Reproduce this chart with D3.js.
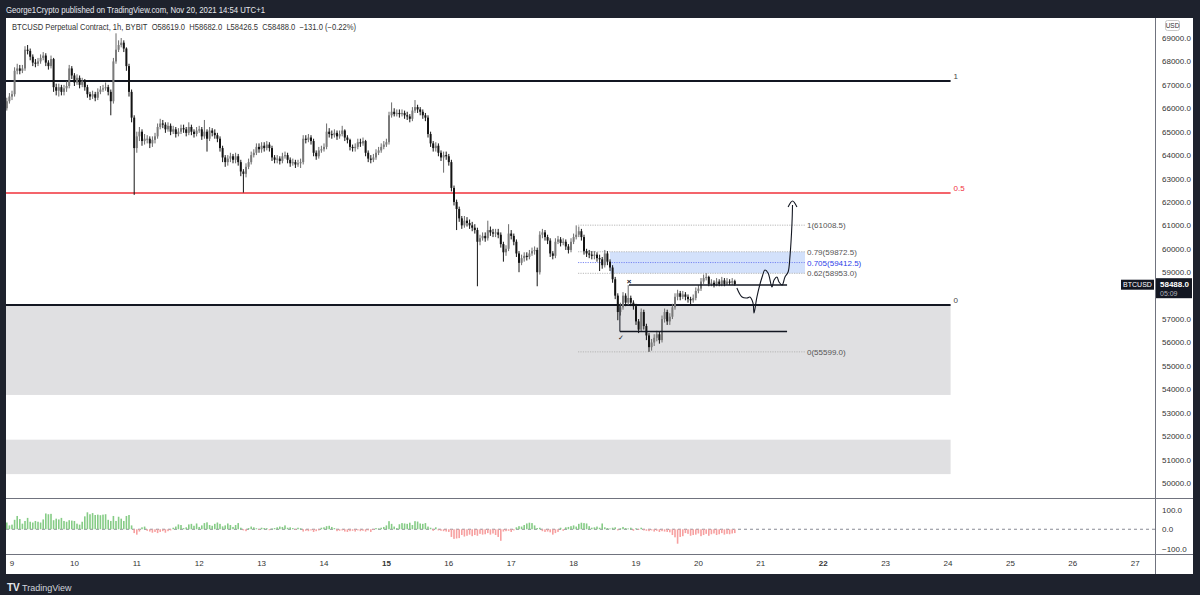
<!DOCTYPE html>
<html><head><meta charset="utf-8">
<script src="https://cdn.jsdelivr.net/npm/d3@7"></script>
<style>
html,body{margin:0;padding:0;background:#1e222d;}
svg{display:block;font-family:"Liberation Sans",Arial,sans-serif;}
</style></head><body>
<svg id="c" width="1200" height="595"></svg>
<script>
// ---------- DATA ----------
const firstHour = -2;           // hours since Nov 9 00:00 of first candle
const startOpen = 66000;
const closes = [
66300,66500,
66600,67600,67700,67600,67700,68500,68450,68200,67950,67900,68000,68150,68250,67950,67800,68100,66900,66750,66900,66700,66850,66950,67700,67400,
67100,67300,67000,67150,66900,66600,66500,66600,66450,66700,66800,66850,66900,66700,66300,68000,68500,68700,68800,68550,67800,66700,65600,64300,
64800,65000,64600,64700,64700,64500,64650,64800,65200,65350,65300,65100,65250,65000,65100,64900,65000,65150,65100,64950,65200,65000,64900,65050,
65100,64800,65000,64700,65050,64950,64850,64700,64300,63900,63700,63850,63950,63800,63950,63700,63300,63200,63500,63700,64000,64100,64350,64250,
64400,64300,64450,64300,63900,63800,63850,63750,63950,64000,63800,63650,63700,63600,63650,63700,64700,64650,64750,64600,64100,63950,64200,64250,
64350,65000,64900,64850,64950,64800,64900,65050,64750,64650,64350,64300,64350,64550,64500,64600,64100,63850,63800,63900,64100,64200,64350,64450,
64550,65700,65850,65750,65800,65750,65800,65700,65650,65550,65900,66050,65950,65850,65700,65600,64900,64500,64300,64400,64100,63900,64000,63950,
63700,62600,62000,61700,61300,61000,61200,61100,61000,60900,60800,60300,60450,60550,60450,60800,60700,60650,60700,60600,60200,59850,60000,60650,
60550,60300,59800,59400,59600,59700,59650,59800,59900,59950,59000,60600,60700,60500,60350,59800,59700,60300,60400,60250,60300,60100,59950,60300,
60500,60600,60750,60500,59900,59800,59750,59700,59750,59600,59550,59300,59800,59450,59200,58700,58000,57300,57500,58000,57700,57900,57700,57550,
56900,56550,57300,56700,56300,55800,56000,56200,56350,56100,57000,57300,56900,57100,57500,57950,58100,57950,58050,57950,57850,57800,57900,58200,
58300,58600,58750,58800,58500,58550,58450,58600,58500,58650,58500,58600,58550,58619,58488
];
const highs = [
66450,66650,
66750,67750,67900,67850,67850,68650,68700,68550,68300,68100,68150,68300,68400,68350,68050,68250,68150,67050,67050,67000,67000,67150,67850,67800,
67500,67450,67400,67300,67250,67000,66700,66750,66700,66850,66950,67000,67100,67000,66800,68150,69200,68900,69000,68900,68600,67900,66800,65700,
65000,65200,65100,64900,64850,64800,64800,64950,65350,65550,65500,65400,65400,65350,65250,65200,65150,65300,65300,65200,65400,65300,65100,65200,
65250,65200,65500,65100,65200,65150,65100,64950,64800,64400,64000,64000,64100,64050,64100,64050,63800,63400,63650,63850,64150,64250,64500,64500,
64550,64550,64600,64550,64400,64000,64000,63950,64100,64150,64100,63900,63850,63800,63800,63850,64850,64850,64900,64850,64700,64200,64350,64400,
64500,65350,65150,65050,65100,65050,65050,65250,65100,64850,64700,64450,64500,64700,64700,64750,64650,64200,64000,64050,64250,64350,64500,64600,
64700,65850,66250,66000,65950,65950,65950,65900,65850,65750,66050,66350,66150,66050,65950,65800,65700,65000,64600,64550,64500,64200,64150,64150,
64050,63800,62700,62100,61800,61400,61400,61350,61250,61150,61050,60900,60600,60700,60700,61200,60950,60850,60850,60850,60700,60300,60150,61050,
60800,60650,60400,59900,59750,59850,59850,59950,60050,60100,60050,60750,60850,60800,60600,60450,59900,60450,60550,60500,60450,60400,60200,60450,
60650,61000,60950,60850,60600,60000,59950,59900,59900,59850,59750,59650,59950,59900,59550,59300,58800,58100,57700,58150,58100,58450,58000,57800,
57650,57000,57450,57400,56800,56400,56150,56350,56500,56450,57150,57450,57400,57250,57650,58100,58250,58200,58200,58150,58050,57950,58050,58350,
58450,58750,58900,58960,58850,58700,58650,58750,58700,58800,58750,58750,58700,58750,58682
];
const lows = [
65900,66200,
66350,66500,67450,67450,67500,67600,68300,68050,67800,67750,67800,67900,68050,67800,67650,67700,66700,66550,66500,66550,66550,66700,66850,67250,
66950,67000,66850,66900,66750,66450,66350,66400,66300,66350,66600,66700,66750,66550,65700,66200,67900,68400,68600,68400,67600,66500,65400,62300,
64100,64600,64400,64450,64500,64300,64350,64500,64700,65100,65150,64950,65000,64850,64900,64750,64800,64900,64950,64800,64850,64850,64750,64800,
64950,64650,64700,64150,64600,64800,64700,64550,64150,63700,63500,63550,63700,63650,63650,63550,63100,62400,63050,63400,63600,63900,64000,64100,
64100,64150,64200,64150,63750,63650,63650,63600,63650,63850,63650,63500,63550,63450,63500,63450,63600,64500,64550,64450,63950,63800,63850,64100,
64150,64250,64750,64700,64750,64650,64700,64800,64600,64500,64200,64150,64150,64250,64350,64400,63950,63700,63650,63700,63800,64000,64100,64250,
64350,64450,65600,65650,65650,65600,65650,65550,65500,65400,65450,65800,65800,65700,65550,65450,64750,64350,64150,64150,63950,63750,63250,63800,
63550,62450,61850,60800,61150,60850,60900,60950,60850,60750,60650,58400,60150,60350,60300,60350,60550,60500,60500,60450,60050,59450,59700,59900,
60400,60150,59650,59000,59300,59450,59500,59550,59700,59750,58400,58900,60450,60350,60200,59650,59550,59600,60200,60100,60150,59950,59800,59850,
60200,60400,60500,60350,59750,59650,59600,59550,59550,59450,59050,59150,59200,59300,59050,58550,57850,56950,57150,57400,57550,57600,57550,57400,
56750,56400,56450,56550,56100,55600,55650,55850,56050,55950,56000,56850,56750,56750,57000,57400,57800,57800,57850,57800,57700,57600,57700,57800,
58100,58200,58500,58650,58400,58400,58350,58400,58400,58400,58400,58450,58450,58450,58426.5
];
const oscValues = [
35,20,
24,49,69,53,29,43,59,39,35,43,39,35,51,82,78,80,47,55,51,59,43,39,47,45,
43,29,24,39,67,88,78,84,74,76,73,76,78,49,43,69,43,65,55,43,69,74,20,-20,
-28,-12,10,14,-8,-12,-18,-14,-20,-14,-10,-18,-10,-6,8,14,25,22,6,10,25,28,18,30,
12,20,32,36,22,18,28,35,28,15,20,30,22,12,22,32,8,-6,-10,6,14,10,5,-4,
8,6,5,-5,4,6,10,14,12,20,8,10,6,-4,8,5,-12,-8,-10,-6,-14,-10,-6,8,
10,16,18,12,6,-10,-8,-6,-12,-14,-10,-8,-12,-6,-10,-8,-12,-6,-14,-4,6,4,8,12,
20,42,28,14,6,26,32,30,28,34,22,42,40,30,28,32,14,8,-8,10,-6,-8,-10,-12,
-14,-40,-50,-48,-46,-30,-38,-34,-28,-36,-30,-34,-24,-28,-26,-20,-28,-22,-30,-40,-60,-12,-10,-8,
-14,-6,10,16,14,22,30,34,32,20,6,8,-10,-14,-12,-16,-28,-20,-14,8,-8,10,12,16,
20,14,28,34,32,30,16,8,10,14,8,30,10,6,4,8,10,-6,5,12,6,4,8,-8,
5,-4,8,-6,-8,-10,-6,-12,-8,-14,-10,-12,-14,-16,-30,-42,-75,-40,-36,-20,-24,-34,-30,-28,
-22,-36,-30,-24,-34,-26,-22,-30,-26,-20,-28,-24,-26,-22,-20
];
const dayLabels = [9,10,11,12,13,14,15,16,17,18,19,20,21,22,23,24,25,26,27];
const boldDays = [15,22];
const priceTicks = [69000,68000,67000,66000,65000,64000,63000,62000,61000,60000,59000,57000,56000,55000,54000,53000,52000,51000,50000];
const oscTicks = [100,0,-100];
// horizontal levels (fib 1 / 0.5 / 0)
const levelLabels = ["1","0.5","0"];
const levelPrices = [67164,62382,57600];
const levelEndHour = 361;
// grey zones
const zoneTops = [57600,51850];
const zoneBottoms = [53760,50380];
// fib retracement
const fibLabels = ["1(61008.5)","0.79(59872.5)","0.705(59412.5)","0.62(58953.0)","0(55599.0)"];
const fibPrices = [61008.5,59872.5,59412.5,58953.0,55599.0];
const fibStartHour = 217.7, fibEndHour = 305, fibBoxStartHour = 230;
// range lines
const rangePrices = [58450,56470];
const rangeStartHours = [237.3,233.8];
const rangeEndHour = 298.1;
// projected path
const projHours  = [278.8,280.8,282.7,283.8,285.0,285.4,286.5,288.5,289.6,290.8,292.3,293.1,294.2,295.0,296.2,297.3,298.5,299.2,300.0,300.2];
const projPrices = [58325,57940,57900,57940,57685,57257,57940,58795,59094,58966,58368,58667,58795,58581,58453,58795,59008,59649,61100,61869];
const arrowHours = [298.5,300.2,301.9];
const arrowPrices = [61784,62040,61784];
const lastPrice = "58488.0", countdown = "05:09";

// ---------- DRAW ----------
const svg = d3.select("#c");
const L = 6, R = 1193, AX = 1155, T = 18, MB = 498, OB = 554, B = 574;
const x = d3.scaleLinear().domain([0, 432]).range([12, 1135.2]);
const y = d3.scaleLinear().domain([50000, 69000]).range([483, 38]);
const yo = d3.scaleLinear().domain([-100, 100]).range([548.5, 510]);

svg.append("rect").attr("x",0).attr("y",0).attr("width",1200).attr("height",595).attr("fill","#1e222d");
svg.append("rect").attr("x",L).attr("y",T).attr("width",R-L).attr("height",B-T).attr("fill","#ffffff");

svg.append("text").attr("x",6).attr("y",12.5).attr("fill","#e6e8ee").attr("font-size",9)
  .attr("textLength",259).attr("lengthAdjust","spacingAndGlyphs")
  .text("George1Crypto published on TradingView.com, Nov 20, 2021 14:54 UTC+1");

const defs = svg.append("defs");
defs.append("clipPath").attr("id","mainClip").append("rect").attr("x",L).attr("y",T).attr("width",AX-L).attr("height",MB-T);
defs.append("clipPath").attr("id","oscClip").append("rect").attr("x",L).attr("y",MB).attr("width",AX-L).attr("height",OB-MB);

const main = svg.append("g").attr("clip-path","url(#mainClip)");

// grey zones
main.selectAll("rect.zone").data(zoneTops).enter().append("rect").attr("class","zone")
  .attr("x",L).attr("width",x(levelEndHour)-L)
  .attr("y",d=>y(d)).attr("height",(d,i)=>y(zoneBottoms[i])-y(d))
  .attr("fill","#e0e0e2");

// fib box
main.append("rect").attr("x",x(fibBoxStartHour)).attr("width",x(fibEndHour)-x(fibBoxStartHour))
  .attr("y",y(fibPrices[1])).attr("height",y(fibPrices[3])-y(fibPrices[1]))
  .attr("fill","#d3e1fb");
main.selectAll("line.fib").data(fibPrices).enter().append("line")
  .attr("x1",x(fibStartHour)).attr("x2",x(fibEndHour))
  .attr("y1",d=>y(d)).attr("y2",d=>y(d))
  .attr("stroke",(d,i)=>i===2?"#6d7cf0":"#b0b0b0").attr("stroke-width",0.9)
  .attr("stroke-dasharray","1.2,1.2");

// levels
main.selectAll("line.lvl").data(levelPrices).enter().append("line")
  .attr("x1",L).attr("x2",x(levelEndHour))
  .attr("y1",d=>y(d)).attr("y2",d=>y(d))
  .attr("stroke",(d,i)=>i===1?"#f0303a":"#131722").attr("stroke-width",(d,i)=>i===1?1.3:1.8);

// candles
const candles = closes.map((c,i)=>({h:firstHour+i, o: i?closes[i-1]:startOpen, c, hi:highs[i], lo:lows[i]}));
const cg = main.append("g");
cg.selectAll("line.wick").data(candles).enter().append("line")
  .attr("x1",d=>x(d.h)).attr("x2",d=>x(d.h))
  .attr("y1",d=>y(d.hi)).attr("y2",d=>y(d.lo))
  .attr("stroke",d=>d.c>=d.o?"#6a6a6a":"#141414").attr("stroke-width",1);
cg.selectAll("rect.body").data(candles).enter().append("rect")
  .attr("x",d=>x(d.h)-1).attr("width",2)
  .attr("y",d=>y(Math.max(d.o,d.c)))
  .attr("height",d=>Math.max(1,Math.abs(y(d.o)-y(d.c))))
  .attr("fill",d=>d.c>=d.o?"#7a7a7a":"#141414");

// range lines
main.selectAll("line.rng").data(rangePrices).enter().append("line")
  .attr("x1",(d,i)=>x(rangeStartHours[i])).attr("x2",x(rangeEndHour))
  .attr("y1",d=>y(d)).attr("y2",d=>y(d)).attr("stroke","#131722").attr("stroke-width",1.5);
main.append("line").attr("x1",x(rangeStartHours[1])).attr("x2",x(rangeStartHours[1]))
  .attr("y1",y(levelPrices[2])).attr("y2",y(rangePrices[1])).attr("stroke","#131722").attr("stroke-width",1);
main.append("text").attr("x",x(rangeStartHours[0])).attr("y",y(rangePrices[0])-1.5).attr("text-anchor","middle")
  .attr("font-size",8).attr("font-weight","bold").attr("fill","#131722").text("×");
main.append("text").attr("x",x(rangeStartHours[1])+1).attr("y",y(rangePrices[1])+9).attr("text-anchor","middle")
  .attr("font-size",7).attr("font-family","DejaVu Sans").attr("fill","#131722").text("✓");

// projection path
const pts = projHours.map((h,i)=>[x(h),y(projPrices[i])]);
main.append("path").attr("d",d3.line().curve(d3.curveCatmullRom)(pts))
  .attr("fill","none").attr("stroke","#131722").attr("stroke-width",1.1);
const apts = arrowHours.map((h,i)=>[x(h),y(arrowPrices[i])]);
main.append("path").attr("d",d3.line().curve(d3.curveCatmullRom)(apts))
  .attr("fill","none").attr("stroke","#131722").attr("stroke-width",1.1);

// fib labels
svg.selectAll("text.fibl").data(fibLabels).enter().append("text")
  .attr("x",x(fibEndHour)+2).attr("y",(d,i)=>y(fibPrices[i])+3)
  .attr("font-size",8).attr("fill",(d,i)=>i===2?"#2c3ee8":"#555").text(d=>d);
// level labels
svg.selectAll("text.lvll").data(levelLabels).enter().append("text")
  .attr("x",x(levelEndHour)+3).attr("y",(d,i)=>y(levelPrices[i])-2)
  .attr("font-size",8).attr("fill",(d,i)=>i===1?"#f0303a":"#444").text(d=>d);

// legend
svg.append("text").attr("x",12).attr("y",30).attr("font-size",8.5).attr("fill","#333")
  .attr("textLength",344).attr("lengthAdjust","spacingAndGlyphs")
  .text("BTCUSD Perpetual Contract, 1h, BYBIT\u00a0\u00a0O58619.0\u00a0\u00a0H58682.0\u00a0\u00a0L58426.5\u00a0\u00a0C58488.0\u00a0\u00a0\u2212131.0 (\u22120.22%)");

// oscillator
const og = svg.append("g").attr("clip-path","url(#oscClip)");
og.append("line").attr("x1",L).attr("x2",AX).attr("y1",yo(0)).attr("y2",yo(0))
  .attr("stroke","#6a6d78").attr("stroke-width",0.8).attr("stroke-dasharray","3,3");
og.selectAll("rect.osc").data(oscValues).enter().append("rect")
  .attr("x",(d,i)=>x(firstHour+i)-0.8).attr("width",1.6)
  .attr("y",d=>d>=0?yo(d):yo(0)).attr("height",d=>Math.abs(yo(d)-yo(0)))
  .attr("fill",d=>d>=0?"#86cc86":"#f7a0a0");

// frame lines
svg.append("line").attr("x1",AX+0.5).attr("x2",AX+0.5).attr("y1",T).attr("y2",B).attr("stroke","#70737e").attr("stroke-width",1);
svg.append("line").attr("x1",L).attr("x2",R).attr("y1",MB+0.5).attr("y2",MB+0.5).attr("stroke","#70737e").attr("stroke-width",1);
svg.append("line").attr("x1",L).attr("x2",R).attr("y1",OB+0.5).attr("y2",OB+0.5).attr("stroke","#70737e").attr("stroke-width",1);

// price axis labels
svg.selectAll("text.pt").data(priceTicks).enter().append("text")
  .attr("x",1162).attr("y",d=>y(d)+3).attr("font-size",8).attr("fill","#333")
  .text(d=>d3.format(".1f")(d));
svg.selectAll("text.ot").data(oscTicks).enter().append("text")
  .attr("x",1162).attr("y",d=>yo(d)+3).attr("font-size",8).attr("fill","#333")
  .text(d=>d<0?"\u2212"+d3.format(".1f")(-d):d3.format(".1f")(d));
// USD box
svg.append("rect").attr("x",1165.5).attr("y",20.5).attr("width",14).attr("height",10).attr("rx",2)
  .attr("fill","#fff").attr("stroke","#c8c8c8");
svg.append("text").attr("x",1172.5).attr("y",28).attr("text-anchor","middle").attr("font-size",6.5).attr("fill","#333").text("USD");
// current price label
const cp = y(+lastPrice);
svg.append("rect").attr("x",1156).attr("y",cp-6).attr("width",36).attr("height",20).attr("fill","#131722");
svg.append("text").attr("x",1160).attr("y",cp+3).attr("font-size",8).attr("font-weight","bold").attr("fill","#fff").text(lastPrice);
svg.append("text").attr("x",1160).attr("y",cp+11.5).attr("font-size",7).attr("fill","#b2b5be").text(countdown);
svg.append("rect").attr("x",1121).attr("y",cp-4.5).attr("width",33).attr("height",10).attr("fill","#131722");
svg.append("text").attr("x",1137.5).attr("y",cp+3).attr("text-anchor","middle").attr("font-size",7).attr("fill","#fff").text("BTCUSD");

// x axis
svg.selectAll("text.day").data(dayLabels).enter().append("text")
  .attr("x",d=>x((d-9)*24)).attr("y",566).attr("text-anchor","middle")
  .attr("font-size",8).attr("fill","#333").attr("font-weight",d=>boldDays.includes(d)?"bold":"normal")
  .text(d=>d);

// TradingView logo
svg.append("text").attr("x",7).attr("y",591).attr("font-size",10).attr("font-weight","bold").attr("fill","#e6e8ee").text("TV");
svg.append("text").attr("x",22).attr("y",591).attr("font-size",9).attr("fill","#d1d4dc").text("TradingView");
</script>
</body></html>
